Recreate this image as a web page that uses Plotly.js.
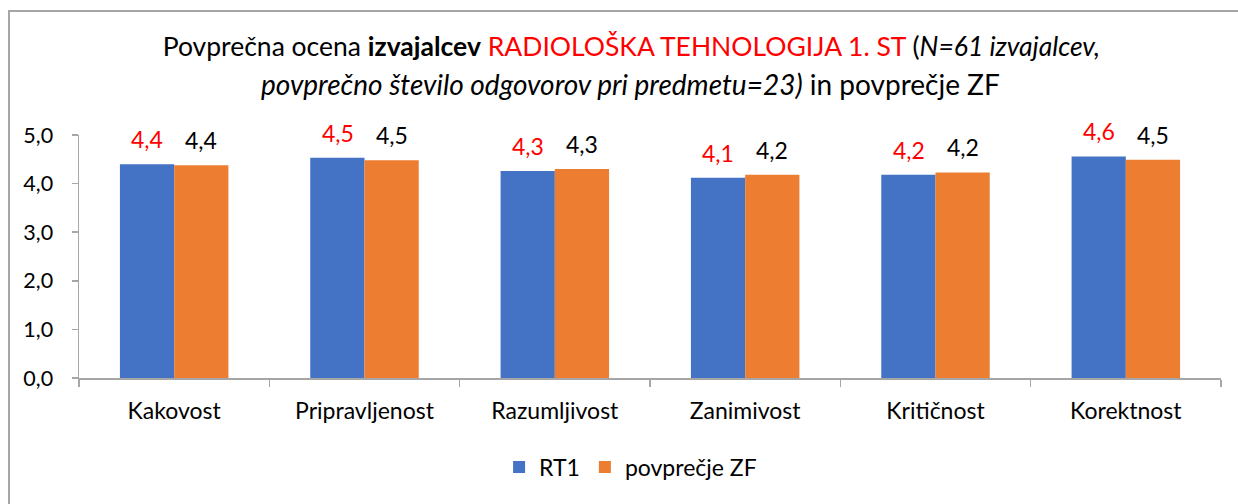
<!DOCTYPE html>
<html>
<head>
<meta charset="utf-8">
<script src="https://cdn.plot.ly/plotly-3.0.1.min.js"></script>
<style>
  html, body { margin: 0; padding: 0; background: #ffffff; }
  #wrap { position: relative; width: 1238px; height: 504px; overflow: hidden; }
  #chart { position: absolute; left: 0; top: 0; width: 1238px; height: 504px; }
  #frame { position: absolute; left: 8px; top: 10px; width: 1300px; height: 600px;
           border-left: 2px solid #a6a6a6; border-top: 2px solid #a6a6a6; pointer-events: none; }
</style>
</head>
<body>
<div id="wrap">
  <div id="chart"></div>
  <div id="frame"></div>
</div>
<script>
const categories = ["Kakovost", "Pripravljenost", "Razumljivost", "Zanimivost", "Kritičnost", "Korektnost"];
const seriesNames = ["RT1", "povprečje ZF"];
const rt1Values = [4.40, 4.53, 4.26, 4.12, 4.18, 4.56];
const zfValues = [4.38, 4.48, 4.30, 4.18, 4.23, 4.49];
const yTickValues = [0, 1, 2, 3, 4, 5];
const titleLine1 = 'Povprečna ocena <b>izvajalcev</b> <span style="color:#ff0000">RADIOLOŠKA TEHNOLOGIJA 1. ST</span> (<i>N=61 izvajalcev,</i>';
const titleLine2 = '<i>povprečno število odgovorov pri predmetu=23)</i> in povprečje ZF';

const FONT = 'Lato, "Open Sans", sans-serif';
const BLUE = '#4472C4';
const ORANGE = '#ED7D31';

function fmt(v) { return v.toFixed(1).replace('.', ','); }

const traces = [
  { type: 'bar', name: seriesNames[0], x: categories, y: rt1Values,
    marker: { color: BLUE, line: { width: 0 } }, hoverinfo: 'x+y' },
  { type: 'bar', name: seriesNames[1], x: categories, y: zfValues,
    marker: { color: ORANGE, line: { width: 0 } }, hoverinfo: 'x+y' }
];

const annotations = [];
categories.forEach((c, i) => {
  annotations.push({ x: c, y: rt1Values[i], xref: 'x', yref: 'y', text: fmt(rt1Values[i]),
    showarrow: false, xshift: -27, yshift: 25, font: { family: FONT, size: 23, color: '#ff0000' } });
  annotations.push({ x: c, y: zfValues[i], xref: 'x', yref: 'y', text: fmt(zfValues[i]),
    showarrow: false, xshift: 27, yshift: 25, font: { family: FONT, size: 23, color: '#000000' } });
});
annotations.push({ xref: 'paper', yref: 'paper', x: 0.483, y: 1.0, yanchor: 'middle', xanchor: 'center',
  yshift: 51, text: titleLine2, showarrow: false, font: { family: FONT, size: 28, color: '#000000' } });

const layout = {
  width: 1238, height: 504,
  paper_bgcolor: '#ffffff', plot_bgcolor: '#ffffff',
  font: { family: FONT, color: '#000000' },
  separators: ', ',
  margin: { l: 79, r: 17, t: 135, b: 126 },
  title: { text: titleLine1, font: { family: FONT, size: 26.5, color: '#000000' },
    x: 0.51, xanchor: 'center', y: 0.907, yanchor: 'middle' },
  barmode: 'group', bargap: 0.43, bargroupgap: 0,
  showlegend: true,
  legend: { orientation: 'h', x: 0.483, xanchor: 'center', y: -0.366, yanchor: 'middle',
    font: { family: FONT, size: 23, color: '#000000' }, itemwidth: 30, traceorder: 'normal' },
  xaxis: { type: 'category', showline: true, linecolor: '#a6a6a6', linewidth: 1.5,
    ticks: 'outside', tickson: 'boundaries', ticklen: 7, tickcolor: '#a6a6a6', tickwidth: 1.5,
    showgrid: false, tickfont: { family: FONT, size: 23, color: '#000000' }, ticklabelstandoff: 12 },
  yaxis: { range: [0, 5], tickvals: yTickValues, tickformat: '.1f', showline: true,
    linecolor: '#a6a6a6', linewidth: 1.5, ticks: 'outside', ticklen: 6, tickcolor: '#a6a6a6',
    tickwidth: 1.5, showgrid: false, zeroline: false, ticklabelstandoff: 14,
    tickfont: { family: FONT, size: 21.5, color: '#000000' } },
  annotations: annotations
};

Plotly.newPlot('chart', traces, layout, { displayModeBar: false, staticPlot: true });
</script>
</body>
</html>
